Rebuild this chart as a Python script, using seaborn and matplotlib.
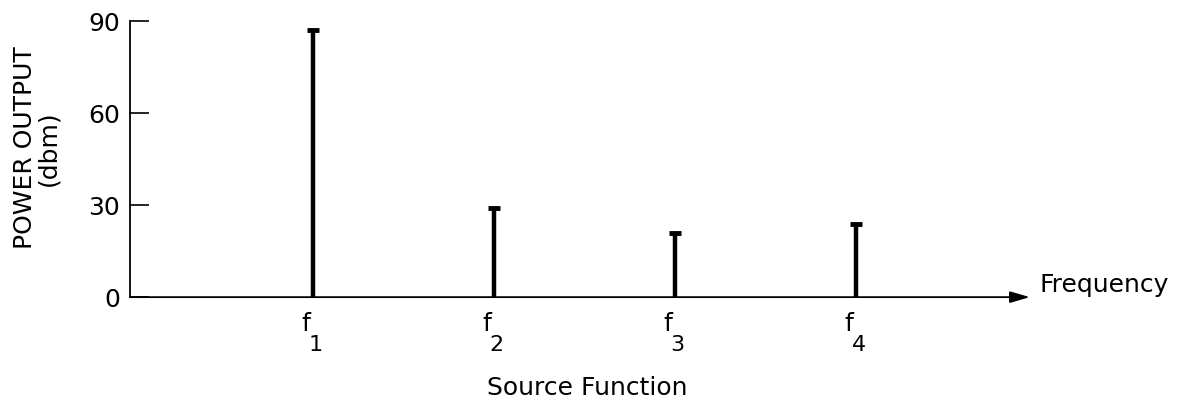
import matplotlib
matplotlib.use('Agg')
import matplotlib.pyplot as plt
import seaborn as sns
import pandas as pd

#   data
sources = ['1', '2', '3', '4']
positions = [1, 2, 3, 4]
power_dbm = [87, 29, 21, 24]
y_ticks = [0, 30, 60, 90]

df = pd.DataFrame({'source': sources, 'pos': positions, 'power': power_dbm})

sns.set_style('ticks')
plt.rcParams['font.family'] = ['DejaVu Sans']
plt.rcParams['text.color'] = 'black'
plt.rcParams['axes.labelcolor'] = 'black'
plt.rcParams['ytick.color'] = 'black'

fig = plt.figure(figsize=(11.81, 4.15), dpi=100)
ax = fig.add_axes([0.110, 0.284, 0.762, 0.665])

#   stems with small caps on top
ax.vlines(df['pos'], 0, df['power'], color='black', linewidth=3.2)
sns.scatterplot(data=df, x='pos', y='power', marker='_', s=80, linewidth=3.5,
                color='black', ax=ax, legend=False, zorder=3)

ax.set_xlim(-0.011, 4.96)
ax.set_ylim(0, 90)
ax.set_yticks(y_ticks)
ax.tick_params(axis='y', direction='in', length=14, width=1.2, labelsize=18, pad=7)
ax.set_xticks([])
ax.set_xlabel('')
ax.set_ylabel('POWER OUTPUT\n(dbm)', fontsize=18, linespacing=1.0)
ax.yaxis.set_label_coords(-0.077, 0.54)

for s in ['top', 'right', 'bottom']:
    ax.spines[s].set_visible(False)
ax.spines['left'].set_linewidth(1.3)
ax.spines['left'].set_color('black')

#   frequency axis with arrow
ax.annotate('', xy=(1.0, 0), xytext=(0, 0), xycoords='axes fraction',
            arrowprops=dict(arrowstyle='-|>,head_length=1.2,head_width=0.35',
                            color='black', lw=1.3, shrinkA=0, shrinkB=0))
ax.text(1.011, 0.045, 'Frequency', transform=ax.transAxes, fontsize=18,
        va='center', ha='left')

#   source labels f with subscripts
for p, s in zip(df['pos'], df['source']):
    ax.annotate('f', xy=(p, 0), xytext=(-5, -11), textcoords='offset points',
                fontsize=18, ha='center', va='top', annotation_clip=False)
    ax.annotate(s, xy=(p, 0), xytext=(2, -27), textcoords='offset points',
                fontsize=16, ha='center', va='top', annotation_clip=False)

ax.text(0.508, -0.287, 'Source Function', transform=ax.transAxes,
        fontsize=18, ha='center', va='top')

plt.savefig('out.png', dpi=100)
